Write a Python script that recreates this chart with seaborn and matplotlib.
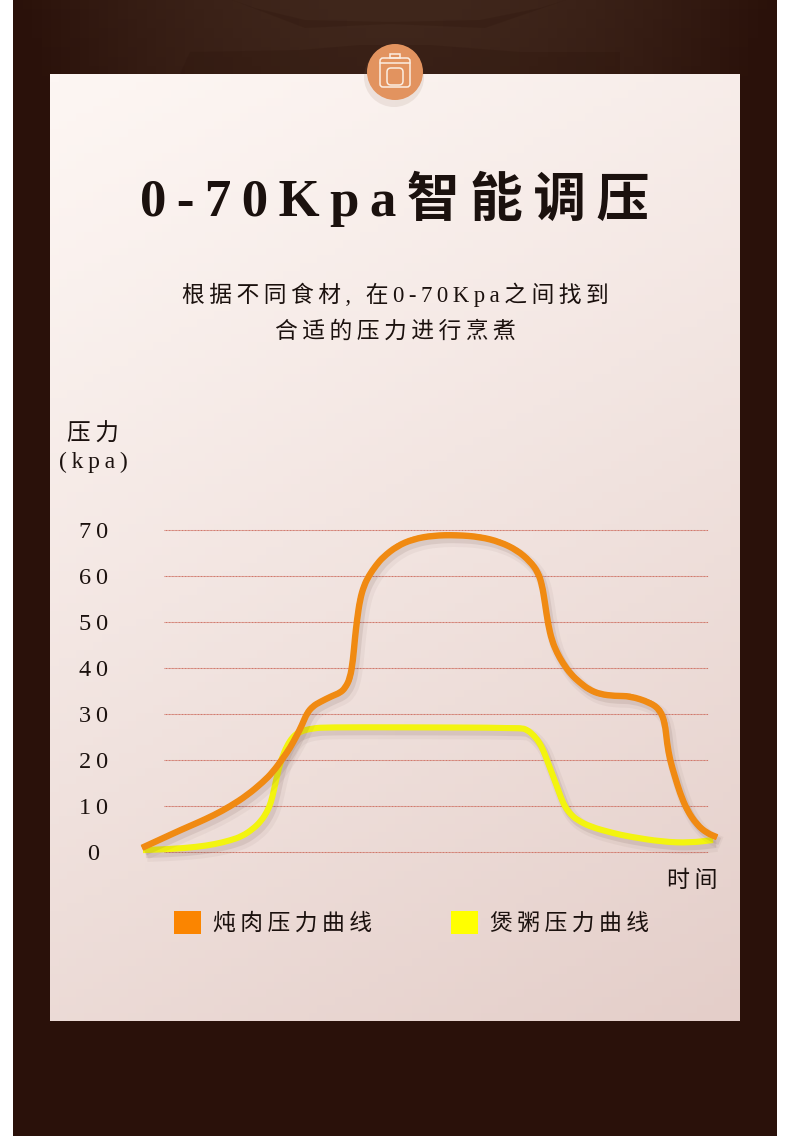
import numpy as np
import pandas as pd
import matplotlib
matplotlib.use("Agg")
import matplotlib.pyplot as plt
import matplotlib.patheffects as pe
from matplotlib.path import Path
from matplotlib.patches import Patch, PathPatch, Circle, FancyBboxPatch, Rectangle, Polygon
import seaborn as sns

title = "0-70Kpa智能调压"
subtitle_1 = "根据不同食材, 在0-70Kpa之间找到"
subtitle_2 = "合适的压力进行烹煮"
y_label = ["压力", "(kpa)"]
x_label = "时间"
series_names = ["炖肉压力曲线", "煲粥压力曲线"]
y_ticks = [0, 10, 20, 30, 40, 50, 60, 70]

stew_time = [0, 21, 40, 55, 72, 88, 105, 121, 131, 141, 148, 155, 160, 165, 171, 178, 190, 198, 203, 208, 211, 213,
             215, 218, 222, 227, 234, 241, 255, 271, 291, 315, 338, 358, 375, 388, 396, 400, 403, 406, 410, 415, 421,
             429, 438, 447, 458, 473, 488, 508, 518, 523, 525, 528, 533, 538, 545, 555, 565, 575]
stew_kpa = [0.8, 2.9, 4.8, 6.2, 7.9, 9.8, 12.2, 15.1, 17.3, 20.3, 22.5, 25.3, 27.5, 30.1, 31.6, 32.5, 33.8, 34.5, 35.5,
            37.6, 41.6, 46.5, 50.3, 54.8, 57.8, 60.0, 62.2, 64.0, 66.4, 67.9, 68.7, 68.8, 68.4, 67.3, 65.5, 63.1, 60.7,
            58.0, 54.0, 49.5, 45.8, 43.2, 40.9, 38.5, 36.7, 35.2, 34.2, 33.8, 33.8, 32.4, 30.8, 27.9, 23.6, 19.9, 16.2,
            12.7, 9.0, 5.8, 4.0, 3.1]
congee_time = [1, 28, 55, 73, 88, 100, 111, 119, 125, 129, 132, 136, 140, 145, 151, 158, 171, 185, 258, 378, 385, 392,
               398, 402, 405, 410, 415, 419, 423, 429, 435, 448, 471, 488, 521, 548, 571]
congee_kpa = [0.3, 0.5, 1.0, 1.6, 2.4, 3.3, 4.9, 6.6, 8.6, 10.7, 13.4, 17.4, 20.4, 23.0, 25.0, 26.1, 26.8, 27.0, 27.0,
              26.9, 26.5, 25.2, 23.5, 21.6, 19.9, 17.0, 14.1, 11.7, 9.7, 8.0, 6.9, 5.4, 4.0, 3.2, 2.1, 1.9, 2.5]

ORANGE, YELLOW = "#f08a12", "#f3f40f"
W, H = 790, 1136
sns.set_theme(style="white", rc={"axes.facecolor": "none", "figure.facecolor": "white"})
FONTS = ["Liberation Serif", "Noto Sans CJK SC", "DejaVu Sans"]
plt.rcParams["font.family"] = FONTS
INK = "#1b110e"


def spaced(s):
    return "\u2009".join(s)


fig = plt.figure(figsize=(W / 100, H / 100), dpi=100)

# backdrop, in pixel coordinates
bg = fig.add_axes([0, 0, 1, 1], zorder=0)
bg.axis("off")
gx = np.linspace(0, 1, 80)
gy = np.linspace(0, 1, 120)
X, Y = np.meshgrid(gx, gy)
dark_top = np.array([0x40, 0x27, 0x1c])
dark_edge = np.array([0x2a, 0x11, 0x0a])
c = np.abs(X - 0.5) * 2
t = np.clip(c ** 2 + Y * 1.6, 0, 1)[..., None]
bg.imshow((dark_top + (dark_edge - dark_top) * t) / 255, extent=(13, 777, 1136, 0), aspect="auto", zorder=1)
for pts in ([(232, 0), (305, 28), (390, 24), (485, 28), (566, 0), (540, 8), (480, 20), (390, 22), (305, 20), (255, 8)],
            [(180, 74), (190, 52), (300, 50), (360, 45), (430, 45), (520, 52), (620, 52), (620, 74)]):
    bg.add_patch(Polygon(pts, closed=True, fc="#2c140b", ec="none", alpha=0.25, zorder=1.5))
card_a, card_b = np.array([0xfd, 0xf6, 0xf3]), np.array([0xe4, 0xce, 0xc9])
t2 = np.clip((0.35 * X + 0.9 * Y) / 1.25, 0, 1)[..., None] ** 1.15
bg.imshow((card_a + (card_b - card_a) * t2) / 255, extent=(50, 740, 1021, 74), aspect="auto", zorder=2)
bg.set_xlim(0, W)
bg.set_ylim(H, 0)

# badge
bg.add_patch(Circle((394, 77), 30, fc="#8a6a55", alpha=0.12, ec="none", zorder=3))
bg.add_patch(Circle((395, 72), 28, fc="#e2935f", ec="none", zorder=4))
icw = dict(fc="none", ec="#fbeee2", lw=1.1, zorder=5)
bg.add_patch(FancyBboxPatch((380, 58), 30, 29, boxstyle="round,pad=0,rounding_size=3", **icw))
bg.add_patch(FancyBboxPatch((387, 68), 16, 17, boxstyle="round,pad=0,rounding_size=4", **icw))
bg.add_patch(Rectangle((390, 54), 10, 4, **icw))
bg.plot([380, 410], [63, 63], color="#fbeee2", lw=1.1, zorder=5)

fig.text(395 / W, 1 - 216 / H, spaced("0-70Kpa") + "\u2009" + spaced("智能调压"), ha="center", va="baseline",
         fontsize=38, fontweight="bold", color=INK, zorder=6)
fig.text(395.5 / W, 1 - 302 / H, spaced(subtitle_1), ha="center", va="baseline", fontsize=16.4, color=INK, zorder=6)
fig.text(395.5 / W, 1 - 338 / H, spaced(subtitle_2), ha="center", va="baseline", fontsize=16.4, color=INK, zorder=6)

# chart axes: x pixels 142..718, y 0 at 851.5, 4.6 px per kPa
px_left, px_right = 142, 718
v_lo, v_hi = -2, 71
px_bottom = 851.5 - v_lo * 4.6
px_top = 851.5 - v_hi * 4.6
ax = fig.add_axes([px_left / W, 1 - px_bottom / H, (px_right - px_left) / W, (px_bottom - px_top) / H], zorder=2)
ax.patch.set_visible(False)
ax.set_xlim(0, px_right - px_left)
ax.set_ylim(v_lo, v_hi)
sns.despine(ax=ax, left=True, bottom=True)

ax.hlines(y_ticks, 22, 566, color="#d0776a", lw=0.75, linestyles=(0, (1, 0.4)), zorder=1)

shadow = [pe.SimpleLineShadow(offset=(3, -4), shadow_color="#6b5048", alpha=0.06, linewidth=9),
          pe.SimpleLineShadow(offset=(2, -3), shadow_color="#6b5048", alpha=0.12, linewidth=5.5),
          pe.Normal()]


def draw_curve(times, values, color, width, z):
    frame = pd.DataFrame({"time": times, "kpa": values})
    sns.lineplot(data=frame, x="time", y="kpa", ax=ax, color=color, lw=width - 1.2, sort=False, estimator=None,
                 zorder=z + 0.1, solid_joinstyle="round", solid_capstyle="butt", clip_on=False)
    # Quadratic Beziers with the read points as control points round off the polyline.
    pts = np.column_stack([times, values])
    verts, codes = [pts[0]], [Path.MOVETO]
    for i in range(1, len(pts) - 1):
        verts += [pts[i], (pts[i] + pts[i + 1]) / 2]
        codes += [Path.CURVE3, Path.CURVE3]
    verts.append(pts[-1])
    codes.append(Path.LINETO)
    ax.add_patch(PathPatch(Path(verts, codes), fc="none", ec=color, lw=width, zorder=z, capstyle="butt",
                           joinstyle="round", path_effects=shadow, clip_on=False))


draw_curve(congee_time, congee_kpa, YELLOW, 4.4, 3)
draw_curve(stew_time, stew_kpa, ORANGE, 4.6, 4)

ax.set_xticks([])
ax.set_yticks(y_ticks)
ax.set_yticklabels([spaced(str(v)) for v in y_ticks], fontsize=17.5, color=INK, ha="center")
ax.tick_params(axis="y", length=0, pad=35)

ax.set_ylabel("\n".join([spaced(y_label[0]), spaced(y_label[1])]), rotation=0, fontsize=17, color=INK, ha="center",
              va="center", linespacing=1.35)
ax.yaxis.set_label_coords((93 - px_left) / (px_right - px_left), (px_bottom - 448) / (px_bottom - px_top))
ax.set_xlabel(spaced(x_label), fontsize=16.5, color=INK, ha="center", va="center")
ax.xaxis.set_label_coords((692 - px_left) / (px_right - px_left), (px_bottom - 881) / (px_bottom - px_top))

handles = [Patch(fc="#fb8500", ec="none", label=spaced(series_names[0])),
           Patch(fc="#ffff00", ec="none", label=spaced(series_names[1]))]
leg = fig.legend(handles=handles, ncols=2, frameon=False, fontsize=16.4, labelcolor=INK,
                 loc="center left", bbox_to_anchor=(174 / W, 1 - 923 / H), borderpad=0, borderaxespad=0,
                 handlelength=1.2, handleheight=1.2, handletextpad=0.52, columnspacing=3.45)
leg.set_zorder(6)

fig.savefig("out.png", dpi=100)
